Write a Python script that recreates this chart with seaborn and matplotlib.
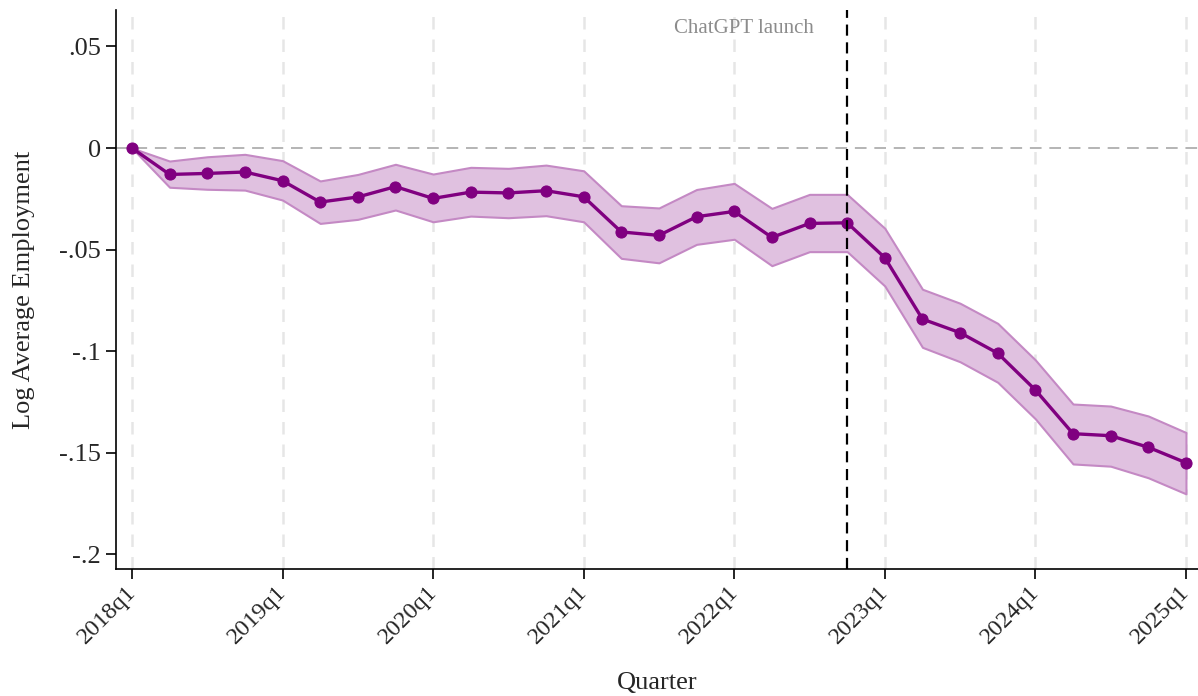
import matplotlib
matplotlib.use("Agg")
import matplotlib.pyplot as plt
import matplotlib.transforms as mtransforms
import seaborn as sns
import pandas as pd
import numpy as np

# Quarterly series, 2018q1 .. 2025q1
quarters = [f"{y}q{q}" for y in range(2018, 2026) for q in range(1, 5)][:29]

estimate = [0.0, -0.0130, -0.0125, -0.0118, -0.0161, -0.0266, -0.0241, -0.0190,
            -0.0248, -0.0217, -0.0221, -0.0210, -0.0240, -0.0413, -0.0430, -0.0338,
            -0.0312, -0.0440, -0.0371, -0.0368, -0.0540, -0.0842, -0.0909, -0.1010,
            -0.1191, -0.1406, -0.1416, -0.1473, -0.1549]
ci_upper = [0.0, -0.0064, -0.0043, -0.0031, -0.0062, -0.0162, -0.0130, -0.0080,
            -0.0128, -0.0095, -0.0100, -0.0084, -0.0112, -0.0284, -0.0295, -0.0204,
            -0.0174, -0.0297, -0.0228, -0.0228, -0.0395, -0.0695, -0.0764, -0.0863,
            -0.1043, -0.1260, -0.1270, -0.1319, -0.1400]
ci_lower = [0.0, -0.0193, -0.0203, -0.0207, -0.0256, -0.0371, -0.0351, -0.0305,
            -0.0363, -0.0335, -0.0343, -0.0333, -0.0363, -0.0543, -0.0565, -0.0474,
            -0.0449, -0.0579, -0.0510, -0.0510, -0.0679, -0.0981, -0.1052, -0.1153,
            -0.1333, -0.1555, -0.1566, -0.1623, -0.1702]

xtick_labels = ["2018q1", "2019q1", "2020q1", "2021q1", "2022q1", "2023q1", "2024q1", "2025q1"]
ytick_values = [0.05, 0.0, -0.05, -0.10, -0.15, -0.20]
ytick_labels = [".05", "0", "-.05", "-.1", "-.15", "-.2"]
launch_quarter = "2022q4"

df = pd.DataFrame({"quarter": quarters, "estimate": estimate,
                   "lo": ci_lower, "hi": ci_upper})
df["t"] = np.arange(len(df))

sns.set_theme(style="white")
plt.rcParams["font.family"] = ["Liberation Serif", "DejaVu Serif"]

fig = plt.figure(figsize=(11.98, 6.96), dpi=100)
ax = fig.add_axes([0.0968, 0.1825, 0.9032, 0.803])

purple = "#800080"

# year gridlines
year_pos = [quarters.index(lbl) for lbl in xtick_labels]
for xp in year_pos:
    ax.axvline(xp, color="#e6e6e6", lw=1.8, ls=(0, (5, 4)), zorder=0)

ax.axhline(0, color="#b4b4b4", lw=1.4, ls=(0, (6, 4)), zorder=1)

ax.fill_between(df["t"], df["lo"], df["hi"], facecolor="#e0c1e0",
                edgecolor="#c489c4", lw=1.5, zorder=2)

sns.lineplot(data=df, x="t", y="estimate", ax=ax, color=purple, lw=2.4,
             marker="o", markersize=8, markeredgecolor=purple, zorder=4)

launch_x = quarters.index(launch_quarter)
ax.axvline(launch_x, color="black", lw=1.6, ls=(0, (5, 3)), zorder=5)
ax.annotate("ChatGPT launch", xy=(launch_x, 1.0), xycoords=("data", "axes fraction"),
            xytext=(-24, -13), textcoords="offset points", ha="right", va="center",
            fontsize=15, color="#8c8c8c")

ax.set_xlim(-0.425, 28.32)
ax.set_ylim(-0.2072, 0.0679)
ax.set_xticks(year_pos)
ax.set_xticklabels(xtick_labels, rotation=45, ha="right", rotation_mode="anchor",
                   fontsize=17.5)
ax.set_yticks(ytick_values)
ax.set_yticklabels(ytick_labels, fontsize=19)
ax.tick_params(axis="x", direction="out", length=7, width=1.2, color="black",
               bottom=True, pad=2)
ax.tick_params(axis="y", direction="out", length=7, width=1.2, color="black",
               left=True, pad=4)

# nudge rotated quarter labels so their ends sit under the ticks
shift = mtransforms.ScaledTranslation(-7 / 100, 0, fig.dpi_scale_trans)
for lbl in ax.get_xticklabels():
    lbl.set_transform(lbl.get_transform() + shift)

ax.set_xlabel("Quarter", fontsize=19, labelpad=17)
ax.set_ylabel("Log Average Employment", fontsize=19, labelpad=17)

for side in ["top", "right"]:
    ax.spines[side].set_visible(False)
for side in ["left", "bottom"]:
    ax.spines[side].set_color("black")
    ax.spines[side].set_linewidth(1.2)

fig.savefig("out.png", dpi=100)
